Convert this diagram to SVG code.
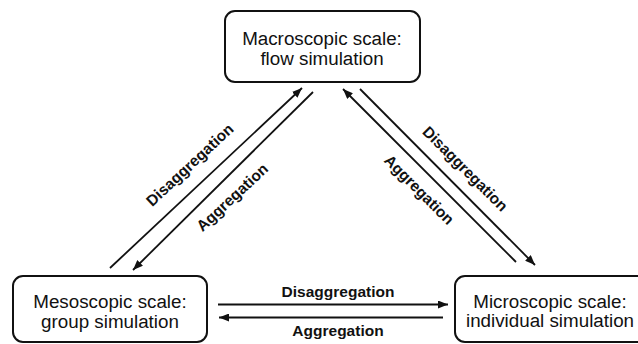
<svg xmlns="http://www.w3.org/2000/svg" width="638" height="344" viewBox="0 0 638 344">
<style>
.box{fill:#fff;stroke:#111;stroke-width:2}
.nt{font-family:"Liberation Sans",Arial,sans-serif;font-size:18.8px;fill:#111;text-anchor:middle}
.lbl{font-family:"Liberation Sans",Arial,sans-serif;font-size:15.5px;font-weight:bold;fill:#111;text-anchor:middle}
.ln{stroke:#111;stroke-width:1.8;fill:none}
</style>
<defs>
<marker id="ah" viewBox="0 0 10 8" refX="10" refY="4" markerWidth="10" markerHeight="8" markerUnits="userSpaceOnUse" orient="auto">
<path d="M0,0 L10,4 L0,8 Z" fill="#111"/>
</marker>
</defs>
<rect width="638" height="344" fill="#fff"/>
<g id="macro">
<rect class="box" x="225" y="11" width="195" height="71" rx="10"/>
<text class="nt" x="322" y="45">Macroscopic scale:</text>
<text class="nt" x="322" y="65">flow simulation</text>
</g>
<g id="meso">
<rect class="box" x="13" y="276" width="194" height="66" rx="10"/>
<text class="nt" x="110" y="308">Mesoscopic scale:</text>
<text class="nt" x="110" y="328">group simulation</text>
</g>
<g id="micro">
<rect class="box" x="455" y="276" width="192" height="66" rx="10"/>
<text class="nt" x="550" y="308">Microscopic scale:</text>
<text class="nt" x="550" y="327">individual simulation</text>
</g>
<g id="connectors">
<line class="ln" x1="110" y1="268" x2="302" y2="88" marker-end="url(#ah)"/>
<line class="ln" x1="313" y1="92" x2="133" y2="270" marker-end="url(#ah)"/>
<line class="ln" x1="516" y1="262" x2="343" y2="89" marker-end="url(#ah)"/>
<line class="ln" x1="360" y1="89" x2="535" y2="265" marker-end="url(#ah)"/>
<line class="ln" x1="218" y1="304.5" x2="448" y2="304.5" marker-end="url(#ah)"/>
<line class="ln" x1="443" y1="317.5" x2="219" y2="317.5" marker-end="url(#ah)"/>
<text class="lbl" transform="translate(190,165) rotate(-43)" y="5">Disaggregation</text>
<text class="lbl" transform="translate(232.5,197.5) rotate(-43)" y="5">Aggregation</text>
<text class="lbl" transform="translate(465,169) rotate(45)" y="5">Disaggregation</text>
<text class="lbl" transform="translate(419,190) rotate(45)" y="5">Aggregation</text>
<text class="lbl" x="338" y="296.5">Disaggregation</text>
<text class="lbl" x="338" y="336">Aggregation</text>
</g>
</svg>
